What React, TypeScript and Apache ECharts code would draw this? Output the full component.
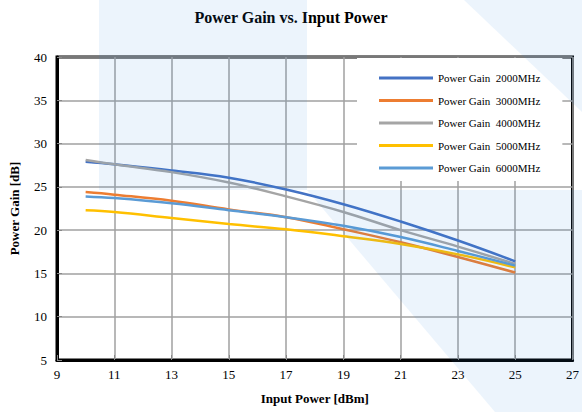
import React, { useEffect, useRef } from "react";
import * as echarts from "echarts";

const inputPower = [10, 11, 13, 15, 17, 19, 21, 23, 25];
const gain2000 = [27.9, 27.6, 26.9, 26.06, 24.7, 23.0, 21.0, 18.8, 16.4];
const gain3000 = [24.4, 24.1, 23.4, 22.4, 21.5, 20.1, 18.6, 16.9, 15.1];
const gain4000 = [28.1, 27.6, 26.7, 25.5, 23.9, 22.1, 20.0, 18.1, 16.1];
const gain5000 = [22.3, 22.1, 21.4, 20.7, 20.1, 19.3, 18.4, 17.2, 15.7];
const gain6000 = [23.9, 23.7, 23.1, 22.3, 21.5, 20.5, 19.2, 17.6, 15.9];
const seriesNames = [
  "Power Gain  2000MHz",
  "Power Gain  3000MHz",
  "Power Gain  4000MHz",
  "Power Gain  5000MHz",
  "Power Gain  6000MHz",
];
const seriesColors = ["#4472C4", "#ED7D31", "#A5A5A5", "#FFC000", "#5B9BD5"];

const FONT = "Liberation Serif, Times New Roman, serif";

export default function App() {
  const ref = useRef<HTMLDivElement>(null);
  useEffect(() => {
    if (!ref.current) return;
    const chart = echarts.init(ref.current, null, { renderer: "svg" });
    const allData = [gain2000, gain3000, gain4000, gain5000, gain6000];
    const wm = "rgba(40,130,220,0.09)";
    chart.setOption({
      animation: false,
      backgroundColor: "#ffffff",
      title: {
        text: "Power Gain vs. Input Power",
        left: "center",
        top: 4,
        textStyle: { fontFamily: FONT, fontSize: 16, fontWeight: "bold", color: "#000" },
      },
      legend: {
        orient: "vertical",
        left: 357,
        top: 58,
        padding: [13, 22, 6, 22],
        backgroundColor: "#ffffff",
        icon: "rect",
        itemWidth: 54,
        itemHeight: 3,
        itemGap: 8.5,
        data: seriesNames,
        textStyle: { fontFamily: FONT, fontSize: 11, color: "#000", lineHeight: 14 },
      },
      grid: {
        left: 57,
        right: 3,
        top: 57,
        bottom: 52,
        show: true,
        borderColor: "#000",
        borderWidth: 3,
      },
      xAxis: {
        type: "value",
        min: 9,
        max: 27,
        interval: 2,
        name: "Input Power [dBm]",
        nameLocation: "middle",
        nameGap: 32,
        nameTextStyle: { fontFamily: FONT, fontSize: 13, fontWeight: "bold", color: "#000" },
        axisLine: { show: true, lineStyle: { color: "#000", width: 3 } },
        axisTick: { show: true, inside: true, length: 5, lineStyle: { color: "#888" } },
        axisLabel: { fontFamily: FONT, fontSize: 13, color: "#000", margin: 8 },
        splitLine: { show: true, lineStyle: { color: "#a0a0a0", width: 1.5 } },
      },
      yAxis: {
        type: "value",
        min: 5,
        max: 40,
        interval: 5,
        name: "Power Gain [dB]",
        nameLocation: "middle",
        nameGap: 36,
        nameTextStyle: { fontFamily: FONT, fontSize: 13, fontWeight: "bold", color: "#000" },
        axisLine: { show: true, lineStyle: { color: "#000", width: 3 } },
        axisTick: { show: true, inside: true, length: 5, lineStyle: { color: "#888" } },
        axisLabel: { fontFamily: FONT, fontSize: 13, color: "#000", margin: 10 },
        splitLine: { show: true, lineStyle: { color: "#a0a0a0", width: 1.5 } },
      },
      series: seriesNames.map((name, i) => ({
        name,
        type: "line",
        smooth: 0.4,
        symbol: "none",
        color: seriesColors[i],
        lineStyle: { width: 2.5, color: seriesColors[i] },
        data: inputPower.map((x, j) => [x, allData[i][j]]),
        z: 3,
      })),
      graphic: [
        {
          type: "polygon",
          silent: true,
          z: 100,
          shape: { points: [[99, 0], [307, 0], [307, 190], [99, 190]] },
          style: { fill: wm },
        },
        {
          type: "polygon",
          silent: true,
          z: 100,
          shape: { points: [[464, 0], [582, 0], [582, 112]] },
          style: { fill: wm },
        },
        {
          type: "polygon",
          silent: true,
          z: 100,
          shape: { points: [[307, 190], [582, 190], [582, 412], [495, 412]] },
          style: { fill: wm },
        },
      ],
    });
    return () => chart.dispose();
  }, []);
  return (
    <div
      ref={ref}
      style={{ position: "fixed", left: 0, top: 0, width: 582, height: 412 }}
    />
  );
}
